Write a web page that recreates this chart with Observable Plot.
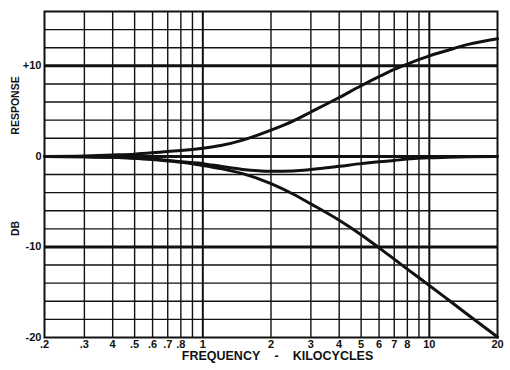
<!DOCTYPE html>
<html><head><meta charset="utf-8">
<script src="https://cdn.jsdelivr.net/npm/d3@7"></script>
<script src="https://cdn.jsdelivr.net/npm/@observablehq/plot@0.6"></script>
<style>body{margin:0;background:#fff}</style>
</head><body><div id="chart"></div>
<script>
const freq   = [0.2, 0.3, 0.4, 0.5, 0.6, 0.7, 0.8, 1, 1.2, 1.5, 2, 2.5, 3, 4, 5, 6, 7, 8, 10, 12, 15, 20];
const upper  = [0, 0.05, 0.15, 0.25, 0.4, 0.55, 0.65, 0.9, 1.2, 1.8, 2.9, 3.9, 4.9, 6.5, 7.8, 8.8, 9.6, 10.2, 11.1, 11.7, 12.4, 13.0];
const middle = [0, -0.05, -0.1, -0.2, -0.3, -0.45, -0.6, -0.8, -1.1, -1.45, -1.65, -1.6, -1.45, -1.1, -0.8, -0.6, -0.45, -0.3, -0.15, -0.1, -0.05, 0];
const lower  = [0, -0.05, -0.1, -0.2, -0.35, -0.5, -0.65, -1.0, -1.35, -1.9, -3.0, -4.15, -5.25, -7.05, -8.65, -10.1, -11.35, -12.45, -14.25, -15.75, -17.6, -19.95];

const xTicks = [0.2, 0.3, 0.4, 0.5, 0.6, 0.7, 0.8, 1, 2, 3, 4, 5, 6, 7, 8, 10, 20];
const xTickLabels = [".2", ".3", "4", ".5", ".6", ".7", ".8", "1", "2", "3", "4", "5", "6", "7", "8", "10", "20"];
const yTicks = [-20, -10, 0, 10];
const yTickLabels = ["-20", "-10", "0", "+10"];
const xGrid = [0.3, 0.4, 0.5, 0.6, 0.7, 0.8, 0.9, 1, 2, 3, 4, 5, 6, 7, 8, 9, 10];
const yGrid = [-18, -16, -14, -12, -10, -8, -6, -4, -2, 0, 2, 4, 6, 8, 10, 12, 14];
const heavyX = [1, 10];
const heavyY = [-10, 0, 10];

const rows = [];
freq.forEach((f, i) => {
  rows.push({f, db: upper[i], s: "upper"});
  rows.push({f, db: middle[i], s: "middle"});
  rows.push({f, db: lower[i], s: "lower"});
});

const ink = "#111";
const chart = Plot.plot({
  width: 510, height: 370,
  marginLeft: 44, marginRight: 13, marginTop: 11, marginBottom: 33,
  x: {type: "log", domain: [0.2, 20], axis: null},
  y: {domain: [-20, 16], axis: null},
  style: {fontFamily: "'Liberation Sans', Arial, sans-serif", fontWeight: "bold", fontSize: "11px", color: ink, background: "#fff"},
  marks: [
    Plot.ruleX(xGrid, {stroke: ink, strokeWidth: d => heavyX.includes(d) ? 2 : 1.4}),
    Plot.ruleY(yGrid, {stroke: ink, strokeWidth: d => heavyY.includes(d) ? 3 : 1.4}),
    Plot.frame({stroke: ink, strokeWidth: 2}),
    Plot.line(rows, {x: "f", y: "db", z: "s", stroke: ink, strokeWidth: 3, curve: "monotone-x"}),
    Plot.text(xTicks, {x: d => d, text: (d, i) => xTickLabels[i], frameAnchor: "bottom", dy: 10, fontSize: 11, fontWeight: "bold", fill: ink}),
    Plot.text(yTicks, {y: d => d, text: (d, i) => yTickLabels[i], frameAnchor: "left", textAnchor: "end", dx: -3, dy: (0), fontSize: 11, fontWeight: "bold", fill: ink}),
    Plot.text(["FREQUENCY"], {frameAnchor: "bottom", dx: -50, dy: 22, fontSize: 12.5, fontWeight: "bold", fill: ink}),
    Plot.text(["-"], {frameAnchor: "bottom", dx: 5.5, dy: 22, fontSize: 12.5, fontWeight: "bold", fill: ink}),
    Plot.text(["KILOCYCLES"], {frameAnchor: "bottom", dx: 62, dy: 22, fontSize: 12.5, fontWeight: "bold", fill: ink}),
    Plot.text([{y: 2.4, t: "RESPONSE"}], {y: "y", text: "t", frameAnchor: "left", dx: -29, rotate: -90, fontSize: 10.5, fontWeight: "bold", fill: ink}),
    Plot.text([{y: -8.8, t: "DB"}], {y: "y", text: "t", frameAnchor: "left", dx: -29, rotate: -90, fontSize: 10.5, fontWeight: "bold", fill: ink})
  ]
});
document.getElementById("chart").appendChild(chart);
</script>
</body></html>
